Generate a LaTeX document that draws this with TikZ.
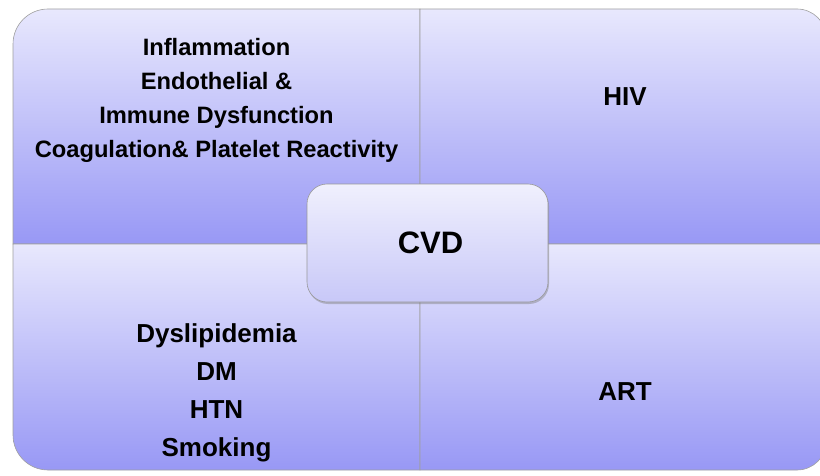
\documentclass[tikz,border=0pt]{standalone}
\usepackage{fontspec}
\setmainfont{Liberation Sans}
\usetikzlibrary{shadows}

\definecolor{quadtop}{RGB}{232,232,253}
\definecolor{quadbot}{RGB}{152,152,245}
\definecolor{hubtop}{RGB}{240,240,253}
\definecolor{hubbot}{RGB}{200,200,248}

\tikzset{
	quad/.style={top color=quadtop, bottom color=quadbot, draw=gray!75, line width=0.6pt},
	hub/.style={top color=hubtop, bottom color=hubbot, draw=gray!80, line width=0.6pt,
		rounded corners=20pt, drop shadow={shadow xshift=1pt, shadow yshift=-2pt, opacity=0.45}},
	txt/.style={align=center, font=\fontsize{26}{38}\selectfont\bfseries}
}

\begin{document}
\begin{tikzpicture}[x=1pt, y=1pt]
	
	\useasboundingbox (0,0) rectangle (820,475);
	
	% QUADRANTS
	\path[quad] (13,231) -- (13,431) arc[start angle=180, end angle=90, radius=35] -- (420,466) -- (420,231) -- cycle;
	\path[quad] (420,231) -- (420,466) -- (797,466) arc[start angle=90, end angle=0, radius=29.5] -- (826.5,231) -- cycle;
	\path[quad] (13,231) -- (13,40) arc[start angle=180, end angle=270, radius=35] -- (420,5) -- (420,231) -- cycle;
	\path[quad] (420,231) -- (420,5) -- (797,5) arc[start angle=270, end angle=360, radius=29.5] -- (826.5,231) -- cycle;
	
	% CENTRE
	\path[hub] (307,173) rectangle (548,291);
	\node[font=\fontsize{31}{36}\selectfont\bfseries] (cvd) at (430.5,232.5) {CVD};
	
	% LABELS
	\node[txt, font=\fontsize{23.7}{34}\selectfont\bfseries] (mech) at (216.5,375)
		{Inflammation\\Endothelial \&\\Immune Dysfunction\\Coagulation\& Platelet Reactivity};
	\node[txt] (hiv) at (625,378) {HIV};
	\node[txt] (risk) at (216.5,82) {Dyslipidemia\\DM\\HTN\\Smoking};
	\node[txt] (art) at (625,83) {ART};
	
\end{tikzpicture}
\end{document}
